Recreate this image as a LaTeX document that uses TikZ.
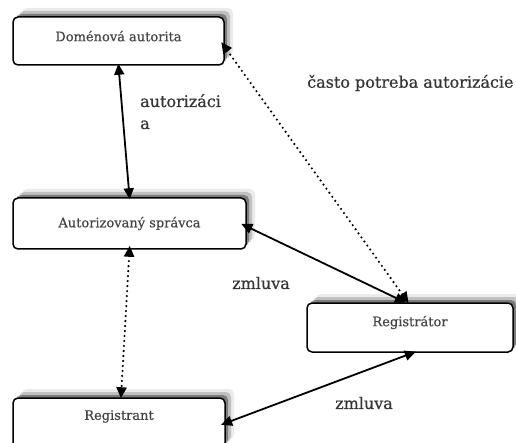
\documentclass[tikz,border=0pt]{standalone}
\usepackage{fontspec}
\setmainfont{DejaVu Serif}
\usetikzlibrary{arrows.meta,shadows,calc}
\definecolor{txt}{HTML}{353535}
\definecolor{ntxt}{HTML}{454545}
\tikzset{
  box/.style={draw=black, line width=1.5pt, rounded corners=5pt, fill=white,
    text=ntxt, font=\fontsize{13}{15}\addfontfeature{FakeBold=0.6}\selectfont, inner sep=0pt,
    general shadow={shadow xshift=9pt, shadow yshift=9pt, fill=black, opacity=0.08},
    general shadow={shadow xshift=6pt, shadow yshift=6pt, fill=black, opacity=0.18},
    general shadow={shadow xshift=3pt, shadow yshift=3pt, fill=black, opacity=0.35}},
  lbl/.style={text=txt, font=\fontsize{16}{22}\addfontfeature{FakeBold=0.6}\selectfont, inner sep=0pt},
  link/.style={line width=1.8pt, {Triangle[length=11pt,width=10pt]}-{Triangle[length=11pt,width=10pt]}},
  dotlink/.style={line width=2.4pt, line cap=round, dash pattern=on 0pt off 5pt,
    {Triangle[length=11pt,width=10pt]}-{Triangle[length=11pt,width=10pt]}}
}
\begin{document}
\begin{tikzpicture}[x=1pt,y=-1pt]
\useasboundingbox (0,0) rectangle (516,443);
\fill[white] (0,0) rectangle (516,443);
\node[box, minimum width=211pt, minimum height=48pt, text depth=10pt] (DA) at (118.5,41) {Doménová autorita};
\node[box, minimum width=233pt, minimum height=51pt] (AS) at (129.5,223.5) {Autorizovaný správca};
\node[box, minimum width=206pt, minimum height=49pt, text depth=13pt] (R) at (410,327.5) {Registrátor};
\node[box, minimum width=212pt, minimum height=50pt, text depth=16pt] (RG) at (119,423) {Registrant};

\node[lbl, anchor=north west, align=left] (L1) at (140,94) {autorizáci\\a};
\node[lbl, anchor=west] (L2) at (307,83) {často potreba autorizácie};
\node[lbl, anchor=west] (L3) at (232,283) {zmluva};
\node[lbl, anchor=west] (L4) at (335,403) {zmluva};

\draw[link, shorten <=-2pt, shorten >=-2pt] (DA.south) -- (AS.north);
\draw[dotlink, shorten <=-6pt, shorten >=-1pt] ([yshift=-6pt]DA.east) -- ([xshift=-2pt]R.north);
\draw[link, shorten <=-6pt, shorten >=-1pt] ([yshift=-3pt]AS.east) -- ([xshift=-5pt]R.north);
\draw[dotlink, shorten <=-4pt, shorten >=-1pt] (AS.south) -- ([xshift=2pt]RG.north);
\draw[link, shorten <=-5pt, shorten >=-3pt] (RG.east) -- ([xshift=3pt]R.south);
\end{tikzpicture}
\end{document}
